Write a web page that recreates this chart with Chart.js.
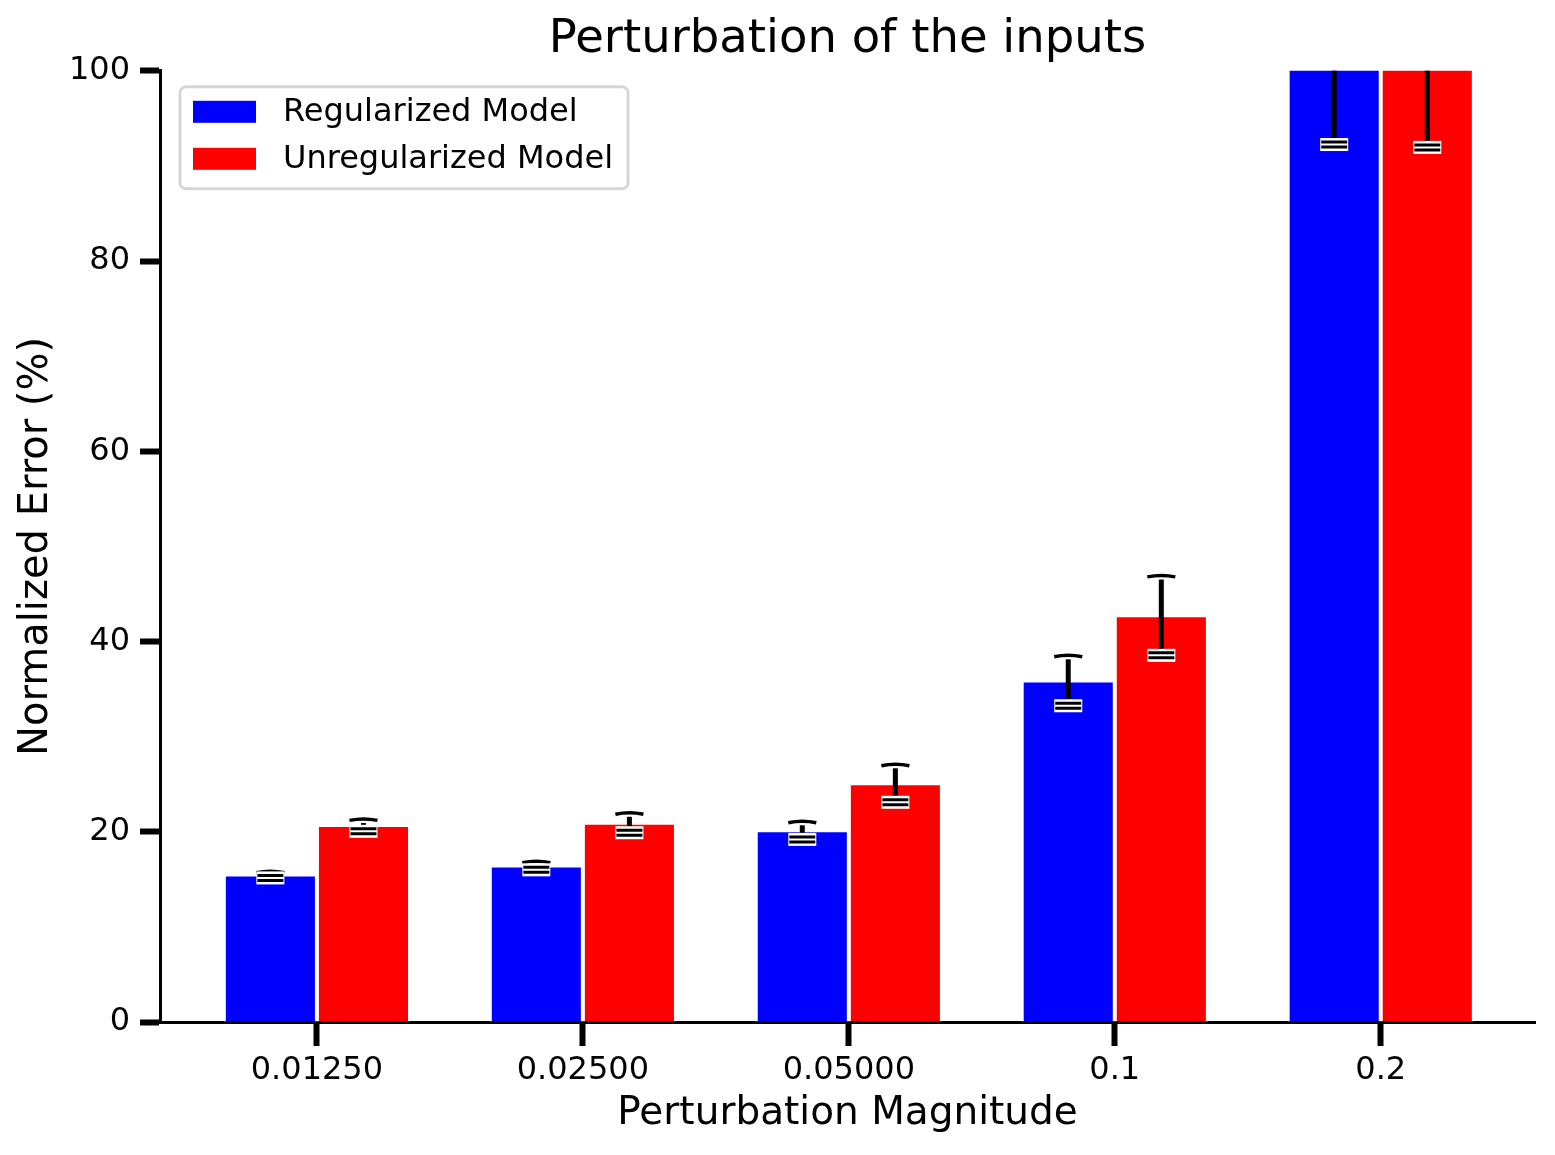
<!DOCTYPE html>
<html>
<head>
<meta charset="utf-8">
<script src="https://cdn.jsdelivr.net/npm/chart.js@4.4.1/dist/chart.umd.min.js"></script>
<style>
  html, body { margin: 0; padding: 0; background: #fff; }
</style>
</head>
<body>
<canvas id="chartPerturb" width="1555" height="1155"></canvas>
<script>
// data
const magnitudes = ['0.01250', '0.02500', '0.05000', '0.1', '0.2'];
const regValues = [15.5, 16.45, 20.15, 35.9, 106];
const regErrors = [0.3, 0.4, 0.9, 2.6, 13.7];
const unregValues = [20.7, 20.95, 25.1, 42.75, 106];
const unregErrors = [0.6, 1.0, 1.95, 4.15, 14.0];
const yTickStep = 20;

Chart.defaults.font.family = "'DejaVu Sans', sans-serif";
Chart.defaults.color = '#000';

// error bars, xkcd-ish: white halo round the caps
const errorBars = {
  id: 'errorBars',
  afterDatasetsDraw(chart) {
    const ctx = chart.ctx;
    const a = chart.chartArea;
    const ys = chart.scales.y;
    ctx.save();
    ctx.beginPath();
    ctx.rect(a.left, a.top, a.right - a.left, a.bottom - a.top);
    ctx.clip();
    chart.data.datasets.forEach((ds, di) => {
      chart.getDatasetMeta(di).data.forEach((bar, i) => {
        const v = ds.data[i].y, e = ds.errors[i];
        const x = bar.x;
        const yHi = ys.getPixelForValue(v + e);
        const yLo = ys.getPixelForValue(v - e);
        const hw = 14;
        ctx.lineCap = 'butt';
        // stem
        ctx.strokeStyle = '#000';
        ctx.lineWidth = 5;
        ctx.beginPath();
        ctx.moveTo(x, yLo);
        ctx.lineTo(x, yHi);
        ctx.stroke();
        // upper cap
        ctx.strokeStyle = '#fff';
        ctx.lineWidth = 8;
        ctx.beginPath();
        ctx.moveTo(x - hw, yHi + 1);
        ctx.quadraticCurveTo(x, yHi - 2, x + hw, yHi + 1);
        ctx.stroke();
        ctx.strokeStyle = '#000';
        ctx.lineWidth = 3.5;
        ctx.stroke();
        // lower cap, drawn as "="
        ctx.fillStyle = '#fff';
        ctx.fillRect(x - hw, yLo - 6, hw * 2, 13);
        ctx.strokeStyle = '#000';
        ctx.lineWidth = 3;
        [-2, 3].forEach(d => {
          ctx.beginPath();
          ctx.moveTo(x - hw + 1, yLo + d);
          ctx.lineTo(x + hw - 1, yLo + d);
          ctx.stroke();
        });
      });
    });
    ctx.restore();
  }
};

// legend box in the upper left of the plot
const boxLegend = {
  id: 'boxLegend',
  afterDraw(chart) {
    const ctx = chart.ctx;
    const a = chart.chartArea;
    const x0 = a.left + 20, y0 = a.top + 16;
    ctx.save();
    ctx.font = "32px 'DejaVu Sans', sans-serif";
    const tw = Math.max(...chart.data.datasets.map(d => ctx.measureText(d.label).width));
    const w = 103 + tw + 15, h = 102;
    ctx.fillStyle = 'rgba(255,255,255,0.85)';
    ctx.strokeStyle = '#d6d6d6';
    ctx.lineWidth = 3;
    ctx.beginPath();
    ctx.roundRect(x0, y0, w, h, 6);
    ctx.fill();
    ctx.stroke();
    chart.data.datasets.forEach((d, i) => {
      const cy = y0 + 25 + i * 47;
      ctx.fillStyle = d.backgroundColor;
      ctx.fillRect(x0 + 13, cy - 11, 63, 22);
      ctx.fillStyle = '#000';
      ctx.textBaseline = 'middle';
      ctx.textAlign = 'left';
      ctx.fillText(d.label, x0 + 103, cy + 1);
    });
    ctx.restore();
  }
};

const ctx1 = document.getElementById('chartPerturb').getContext('2d');
new Chart(ctx1, {
  type: 'bar',
  data: {
    datasets: [
      {
        label: 'Regularized Model',
        data: regValues.map((v, i) => ({ x: i, y: v })),
        errors: regErrors,
        backgroundColor: '#0000ff',
        borderColor: '#ffffff',
        borderWidth: 2,
        categoryPercentage: 0.7,
        barPercentage: 1.0
      },
      {
        label: 'Unregularized Model',
        data: unregValues.map((v, i) => ({ x: i, y: v })),
        errors: unregErrors,
        backgroundColor: '#ff0000',
        borderColor: '#ffffff',
        borderWidth: 2,
        categoryPercentage: 0.7,
        barPercentage: 1.0
      }
    ]
  },
  options: {
    responsive: false,
    animation: false,
    layout: { padding: { left: 0, right: 20, top: 0, bottom: 0 } },
    plugins: {
      legend: { display: false },
      tooltip: { enabled: false },
      title: {
        display: true,
        text: 'Perturbation of the inputs',
        fullSize: false,
        color: '#000',
        font: { size: 46.5, weight: 'normal' },
        padding: { top: 12, bottom: 3 }
      }
    },
    scales: {
      x: {
        type: 'linear',
        offset: false,
        min: -0.59,
        max: 4.58,
        afterBuildTicks: s => { s.ticks = magnitudes.map((m, i) => ({ value: i })); },
        afterFit: s => { s.height = 133; },
        ticks: {
          callback: v => magnitudes[v],
          font: { size: 32 },
          color: '#000',
          padding: 5,
          autoSkip: false,
          maxRotation: 0
        },
        grid: { offset: false, drawOnChartArea: false, tickLength: 24, tickWidth: 6, tickColor: '#000' },
        border: { color: '#000', width: 3 },
        title: { display: true, text: 'Perturbation Magnitude', font: { size: 39 }, color: '#000', padding: { top: 0, bottom: 18 } }
      },
      y: {
        min: 0,
        max: 100,
        afterFit: s => { s.width = 160; },
        ticks: { stepSize: yTickStep, font: { size: 32 }, color: '#000', padding: 10 },
        grid: { drawOnChartArea: false, tickLength: 20, tickWidth: 6, tickColor: '#000' },
        border: { color: '#000', width: 3 },
        title: { display: true, text: 'Normalized Error (%)', font: { size: 40 }, color: '#000', padding: { top: 13 } }
      }
    }
  },
  plugins: [errorBars, boxLegend]
});
</script>
</body>
</html>
